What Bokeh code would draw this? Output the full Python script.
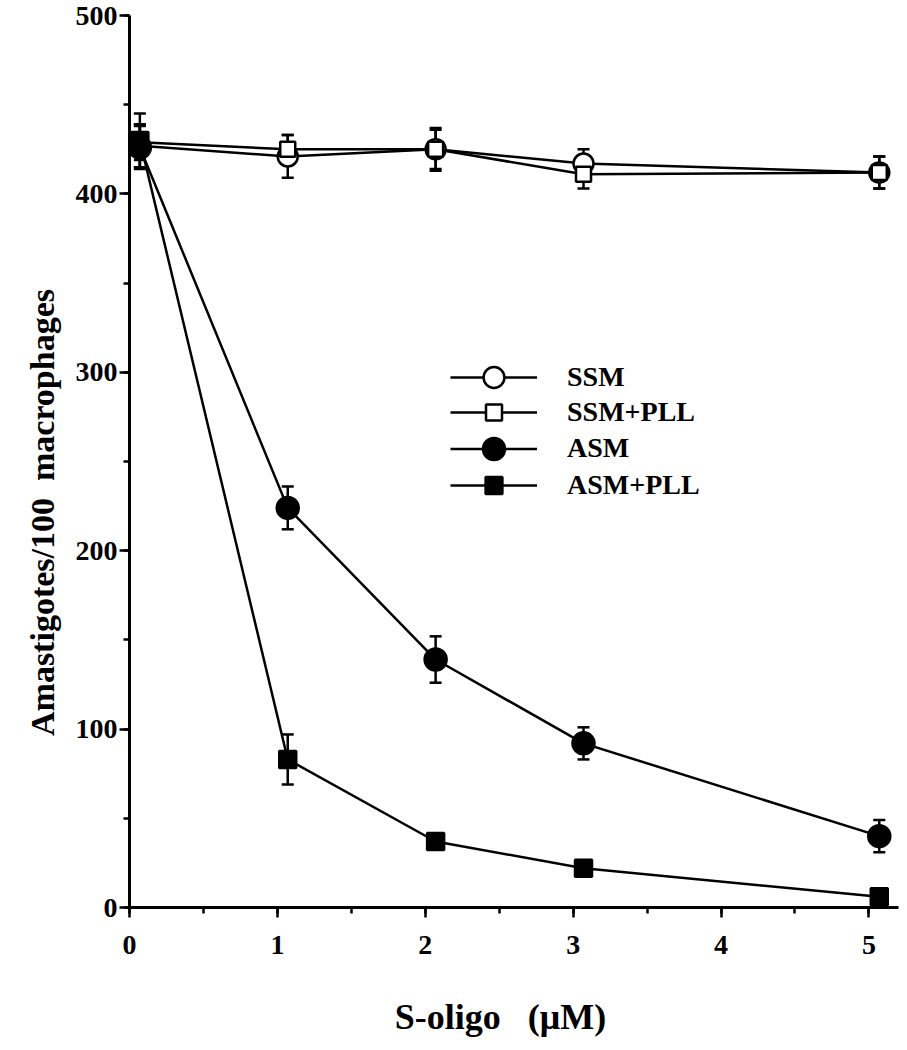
from bokeh.plotting import figure
from bokeh.models import (ColumnDataSource, Whisker, TeeHead, SingleIntervalTicker,
                          Legend, LegendItem, Range1d)
from bokeh.embed import file_html
from bokeh.resources import INLINE

# ---- data ----
x_vals = [0.07, 1.07, 2.07, 3.07, 5.07]
ssm = [427, 421, 425, 417, 412]
ssm_err = [12, 12, 11, 8, 9]
ssm_pll = [429, 425, 425, 411, 412]
ssm_pll_err = [10, 8, 12, 8, 9]
asm = [426, 224, 139, 92, 40]
asm_err = [12, 12, 13, 9, 9]
asm_pll = [430, 83, 37, 22, 6]
asm_pll_err = [15, 14, 4, 3, 2]
series_names = ["SSM", "SSM+PLL", "ASM", "ASM+PLL"]

FONT = "Liberation Serif"

p = figure(width=900, height=1048, output_backend="svg", toolbar_location=None,
           x_range=Range1d(0, 5.2), y_range=Range1d(0, 500),
           min_border_left=129, min_border_right=2, min_border_top=15,
           min_border_bottom=141)
p.outline_line_color = None
p.xgrid.visible = False
p.ygrid.visible = False
p.background_fill_color = "white"

p.xaxis.ticker = SingleIntervalTicker(interval=1, num_minor_ticks=2)
p.yaxis.ticker = SingleIntervalTicker(interval=100, num_minor_ticks=2)
for ax in (p.xaxis, p.yaxis):
    ax.axis_line_width = 3
    ax.axis_line_color = "black"
    ax.major_tick_line_width = 2.5
    ax.minor_tick_line_width = 2.5
    ax.major_tick_out = 10
    ax.major_tick_in = 0
    ax.minor_tick_out = 6
    ax.minor_tick_in = 0
    ax.major_label_text_font = FONT
    ax.major_label_text_font_style = "bold"
    ax.major_label_text_font_size = "28px"
    ax.major_label_text_color = "black"
    ax.axis_label_text_font = FONT
    ax.axis_label_text_font_style = "bold"
    ax.axis_label_text_color = "black"

p.xaxis.axis_label_text_font_size = "36px"
p.yaxis.axis_label_text_font_size = "34px"
p.xaxis.axis_label = "S-oligo\u00a0\u00a0\u00a0(\u03bcM)\u00a0\u00a0\u00a0"
p.yaxis.axis_label = "Amastigotes/100\u00a0\u00a0macrophages" + "\u00a0" * 12
p.yaxis.major_label_standoff = 2
p.xaxis.major_label_standoff = 18
p.yaxis.axis_label_standoff = 12
p.xaxis.axis_label_standoff = 40

specs = [
    (ssm, ssm_err, "circle", "white", 20),
    (ssm_pll, ssm_pll_err, "square", "white", 15),
    (asm, asm_err, "circle", "black", 22),
    (asm_pll, asm_pll_err, "square", "black", 17),
]

renderers = []
for name, (yv, ev, marker, fill, size) in zip(series_names, specs):
    src = ColumnDataSource(dict(
        x=x_vals, y=yv,
        upper=[a + b for a, b in zip(yv, ev)],
        lower=[a - b for a, b in zip(yv, ev)],
    ))
    w = Whisker(source=src, base="x", upper="upper", lower="lower",
                line_width=2.5, line_color="black", level="underlay",
                upper_head=TeeHead(size=12, line_width=2.5, line_color="black"),
                lower_head=TeeHead(size=12, line_width=2.5, line_color="black"))
    p.add_layout(w)
    ln = p.line("x", "y", source=src, line_width=2.5, line_color="black")
    sc = p.scatter("x", "y", source=src, marker=marker, size=size,
                   fill_color=fill, line_color="black", line_width=2.5)
    renderers.append((name, ln, sc))

# one legend per row, so rows can sit closer than the glyph box height
frame_h = 892
row_centers = [362, 397, 433, 470]          # px below the frame top
glyph_heights = [52, 40, 55, 42]            # legend marker size = 0.4 * height
for (name, ln, sc), c, gh in zip(renderers, row_centers, glyph_heights):
    lg = Legend(items=[LegendItem(label=name, renderers=[ln, sc])],
                location=(321, frame_h - c - gh / 2),
                glyph_width=87, glyph_height=gh, spacing=0,
                label_standoff=30, padding=0, margin=0,
                border_line_color=None, background_fill_alpha=0,
                label_text_font=FONT, label_text_font_style="bold",
                label_text_font_size="28px", label_text_color="black")
    p.add_layout(lg, "center")

open("out.html", "w").write(file_html(p, INLINE))
